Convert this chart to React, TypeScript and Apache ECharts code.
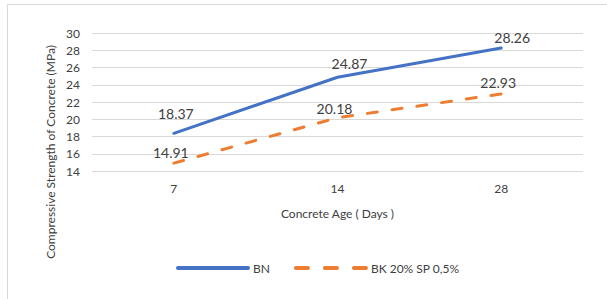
import React, { useEffect, useRef } from "react";
import * as echarts from "echarts";

const categories = ["7", "14", "28"];
const bnValues = [18.37, 24.87, 28.26];
const bkValues = [14.91, 20.18, 22.93];
const seriesNames = ["BN", "BK 20% SP 0,5%"];
const yTitle = "Compressive Strength of Concrete (MPa)";
const xTitle = "Concrete Age ( Days )";

// label offsets (styling only)
const bnOffsets = [[2, -13], [12, -7], [11, -4]];
const bkOffsets = [[-3, -4], [-3, -2], [-3, -4]];

const FONT = "Lato, 'Open Sans', sans-serif";

export default function App() {
  const ref = useRef<HTMLDivElement>(null);
  useEffect(() => {
    if (!ref.current) return;
    const chart = echarts.init(ref.current, null, { renderer: "svg" });
    const mk = (vals: number[], offs: number[][]) =>
      vals.map((v, i) => ({ value: v, label: { offset: offs[i] } }));
    const labelStyle = {
      show: true,
      position: "top",
      distance: 0,
      fontSize: 14,
      color: "#404040",
      fontFamily: FONT,
    };
    chart.setOption({
      animation: false,
      textStyle: { fontFamily: FONT },
      grid: { left: 92, right: 24, top: 33, bottom: 128 },
      graphic: [
        {
          type: "rect",
          shape: { x: 7.5, y: 4.5, width: 800, height: 500 },
          style: { fill: "none", stroke: "#d9d9d9", lineWidth: 1 },
          silent: true,
        },
        {
          type: "text",
          x: 50,
          y: 152,
          rotation: Math.PI / 2,
          style: {
            text: yTitle,
            fontFamily: FONT,
            fontSize: 12,
            fill: "#404040",
            align: "center",
            verticalAlign: "middle",
          },
        },
      ],
      legend: {
        left: 171,
        top: 257,
        itemWidth: 70,
        itemHeight: 14,
        itemGap: 24,
        itemStyle: { opacity: 0, borderWidth: 0 },
        lineStyle: { width: 4, cap: "round" },
        textStyle: { fontFamily: FONT, fontSize: 12, color: "#404040" },
        data: [
          { name: seriesNames[0] },
          { name: seriesNames[1], lineStyle: { type: [12, 17], width: 4, cap: "round" } },
        ],
      },
      xAxis: {
        type: "category",
        data: categories,
        boundaryGap: true,
        axisLine: { show: false },
        axisTick: { show: false },
        axisLabel: { margin: 11, fontSize: 12, color: "#404040", fontFamily: FONT },
        name: xTitle,
        nameLocation: "middle",
        nameGap: 36,
        nameTextStyle: { fontSize: 12, color: "#404040", fontFamily: FONT },
      },
      yAxis: {
        type: "value",
        min: 14,
        max: 30,
        interval: 2,
        axisLine: { show: false },
        axisTick: { show: false },
        axisLabel: { margin: 12, fontSize: 12, color: "#404040", fontFamily: FONT },
        splitLine: { lineStyle: { color: "#d9d9d9", width: 1 } },
      },
      series: [
        {
          name: seriesNames[0],
          type: "line",
          data: mk(bnValues, bnOffsets),
          symbol: "circle",
          symbolSize: 0,
          showSymbol: true,
          lineStyle: { color: "#4472C4", width: 3, cap: "round", join: "round" },
          itemStyle: { color: "#4472C4" },
          label: labelStyle,
        },
        {
          name: seriesNames[1],
          type: "line",
          data: mk(bkValues, bkOffsets),
          symbol: "circle",
          symbolSize: 0,
          showSymbol: true,
          lineStyle: { color: "#ED7D31", width: 3, type: [10, 15], cap: "round", join: "round" },
          itemStyle: { color: "#ED7D31" },
          label: labelStyle,
        },
      ],
    });
    return () => chart.dispose();
  }, []);
  return (
    <div
      ref={ref}
      style={{ position: "absolute", left: 0, top: 0, width: 607, height: 299 }}
    />
  );
}
